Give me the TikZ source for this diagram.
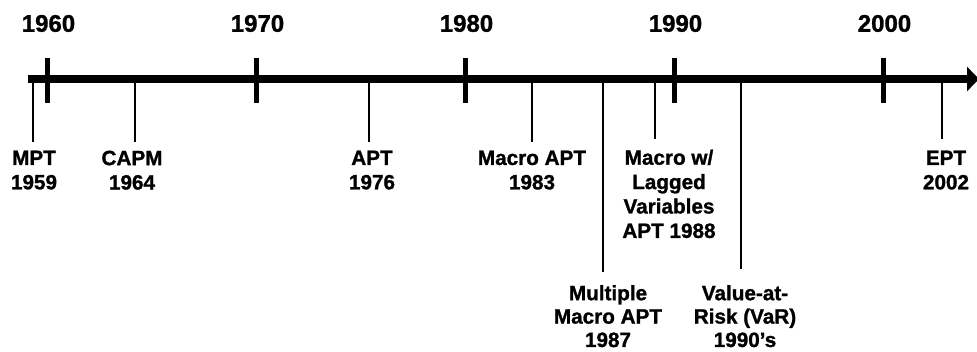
\documentclass[tikz,border=0pt]{standalone}
\usepackage{fontspec}
\setmainfont{Liberation Sans}[BoldFeatures={FakeBold=1.2}]
\usetikzlibrary{arrows.meta}
\begin{document}
\begin{tikzpicture}[x=1pt,y=-1pt,
  axisline/.style={line width=7.5pt},
  tickmark/.style={fill=black, minimum width=5pt, minimum height=45pt, inner sep=0pt, draw=none},
  leader/.style={line width=1.2pt},
  yearlbl/.style={font=\fontsize{24}{28}\selectfont\bfseries, inner sep=0pt},
  eventlbl/.style={font=\fontsize{20.7}{24.4}\selectfont\bfseries, align=center, inner sep=0pt, anchor=north},
  lowlbl/.style={eventlbl, font=\fontsize{20.7}{23.4}\selectfont\bfseries}]
\useasboundingbox (0,0) rectangle (977,352);
% axis
\coordinate (start) at (28,79);
\coordinate (tip) at (979,79);
\draw[axisline, -{Triangle[length=12pt,width=24pt]}] (start) -- (tip);
% decade ticks and labels
\foreach \yr/\x in {1960/47,1970/256,1980/465,1990/674,2000/883}{
  \node[tickmark] (tk\yr) at (\x,80.5) {};
  \node[yearlbl] (yl\yr) at (\x+1.5,23.5) {\yr};
}
% event leaders (axis point -> end point)
\foreach \name/\x/\yb in {mpt/33/142, capm/135/142, apt/369/142, macro/532/142, multi/603/272, lagged/655/139, var/741/269, ept/942/139}{
  \coordinate (a\name) at (\x,80);
  \coordinate (b\name) at (\x,\yb);
  \draw[leader] (a\name) -- (b\name);
}
% event labels
\node[eventlbl] (lmpt) at (34,150.5) {MPT\\1959};
\node[eventlbl] (lcapm) at (132,150.5) {CAPM\\1964};
\node[eventlbl] (lapt) at (372,150.5) {APT\\1976};
\node[eventlbl] (lmacro) at (532,150.5) {Macro APT\\1983};
\node[lowlbl] (lmulti) at (608,285) {Multiple\\Macro APT\\1987};
\node[eventlbl] (llagged) at (669,149.5) {Macro w/\\Lagged\\Variables\\APT 1988};
\node[lowlbl] (lvar) at (745,285) {Value-at-\\Risk (VaR)\\1990’s};
\node[eventlbl] (lept) at (946,150.5) {EPT\\2002};
\end{tikzpicture}
\end{document}
